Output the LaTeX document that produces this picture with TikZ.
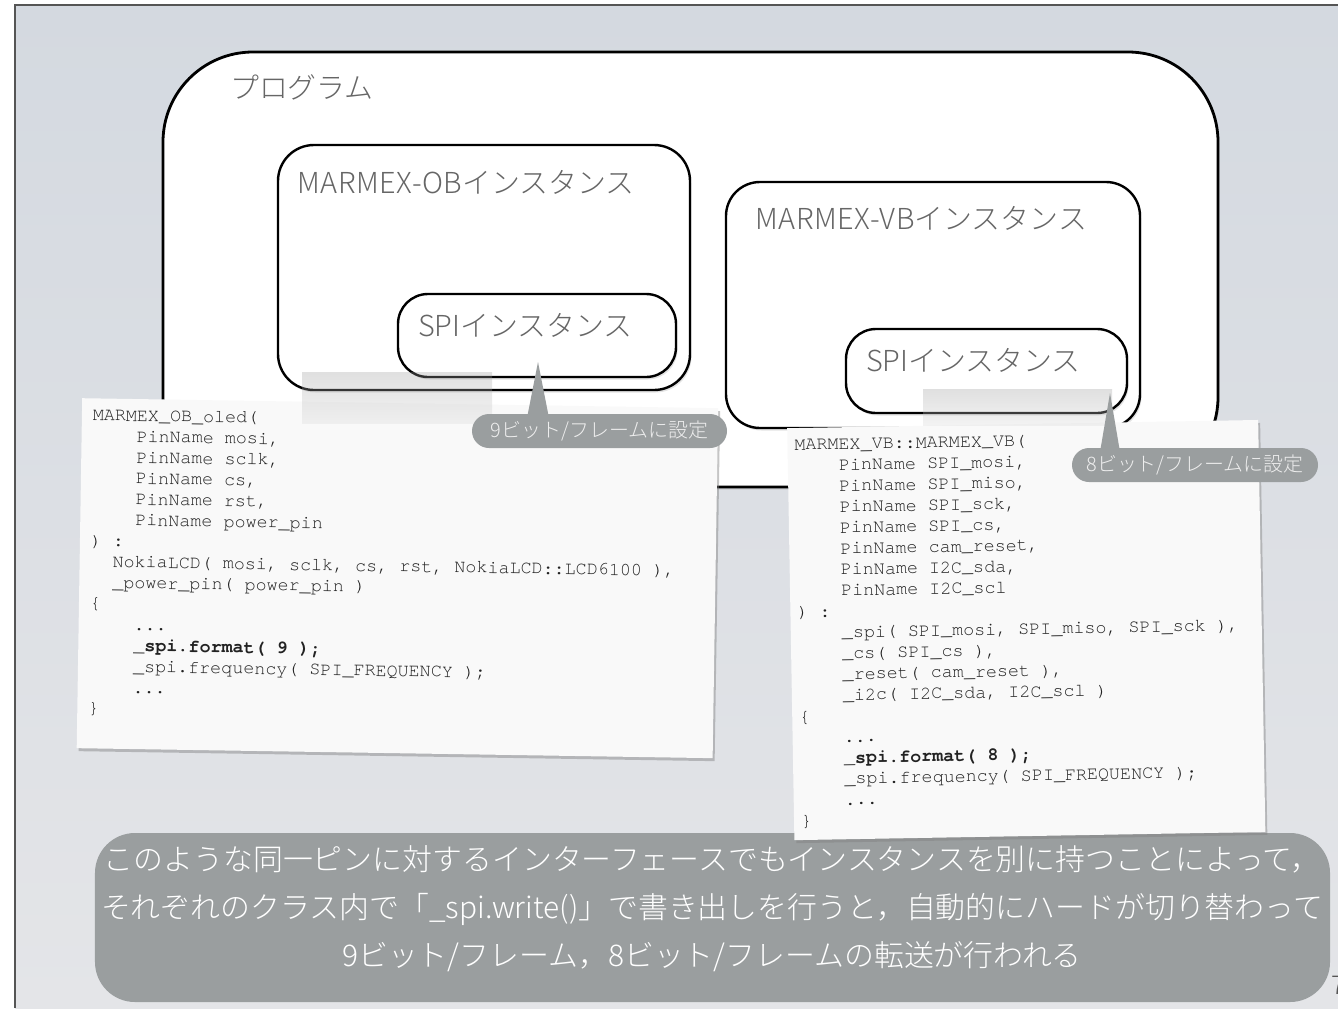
\documentclass[tikz,border=0pt]{standalone}
\usepackage{fontspec}
\setmainfont{Noto Sans CJK JP}
\newfontfamily\jp{Noto Sans CJK JP}
\IfFontExistsTF{Noto Sans CJK JP Light}{\newfontfamily\jpl{Noto Sans CJK JP Light}}{\newfontfamily\jpl{Noto Sans CJK JP}}
\IfFontExistsTF{TeX Gyre Cursor}{\newfontfamily\codefont{TeX Gyre Cursor}}{\newfontfamily\codefont{Liberation Mono}}
\usetikzlibrary{shadows}
\definecolor{labelgray}{HTML}{666666}
\definecolor{bgtop}{HTML}{D4D9E0}
\definecolor{bgbot}{HTML}{E4E5E8}
\definecolor{edgecol}{HTML}{555555}
\definecolor{calloutfill}{HTML}{9A9E9F}
\definecolor{callouttext}{HTML}{EEEEEE}
\definecolor{codecol}{HTML}{222222}
\definecolor{codefill}{HTML}{F9F9F9}
\tikzset{
  rbox/.style={draw=black, line width=2.4bp, fill=white, rounded corners=#1, inner sep=0,
    drop shadow={opacity=0.22, shadow xshift=1.5bp, shadow yshift=-2.5bp}},
  lbl/.style={font=\jpl\fontsize{29}{34}\selectfont, text=labelgray, inner sep=0, anchor=west},
  codebox/.style={fill=codefill, draw=none, inner sep=0, anchor=north west,
    drop shadow={opacity=0.45, shadow xshift=2bp, shadow yshift=-3bp}},
  codetext/.style={font=\codefont\fontsize{18.45}{21}\selectfont, text=codecol, align=left, inner sep=0, anchor=north west},
  tapestrip/.style={top color=black!40, bottom color=black!15, opacity=0.3, draw=none, inner sep=0},
  bubble/.style={fill=calloutfill, draw=none, rounded corners=17bp, inner sep=0,
    font=\jpl\fontsize{20}{23}\selectfont, text=callouttext},
  bigbubble/.style={fill=calloutfill, draw=none, rounded corners=40bp, inner sep=0},
  bigtext/.style={font=\jpl\fontsize{30}{48.5}\selectfont, text=white, align=center, inner sep=0}
}
\begin{document}
\begin{tikzpicture}[x=1bp,y=-1bp]
\useasboundingbox (0,0) rectangle (1338,1008);
\begin{scope}
\clip (0,0) rectangle (1338,1008);
\fill[white] (0,0) rectangle (1338,1008);
\shade[top color=bgtop, bottom color=bgbot] (15,5) rectangle (1338,1008);
\draw[edgecol, line width=1.2bp] (15,1008) -- (15,5) -- (1338,5);

% program box
\node[rbox=90bp, line width=2.8bp, minimum width=1055bp, minimum height=435bp] (prog) at (690.5,269.5) {};
\node[lbl] (proglbl) at (230,87) {プログラム};

% MARMEX-OB instance
\node[rbox=36bp, minimum width=412bp, minimum height=245bp] (obinst) at (484,267.5) {};
\node[lbl] (obinstlbl) at (297,182) {\addfontfeatures{LetterSpace=2}MARMEX-OB\jpl インスタンス};
\node[rbox=30bp, minimum width=278bp, minimum height=83bp] (obspi) at (537,335.5) {};
\node[lbl] (obspilbl) at (418,325) {SPIインスタンス};

% MARMEX-VB instance
\node[rbox=34bp, minimum width=414bp, minimum height=246bp] (vbinst) at (933,305) {};
\node[lbl] (vbinstlbl) at (755,218) {\addfontfeatures{LetterSpace=2}MARMEX-VB\jpl インスタンス};
\node[rbox=30bp, minimum width=281bp, minimum height=84bp] (vbspi) at (986.5,371) {};
\node[lbl] (vbspilbl) at (866,360) {SPIインスタンス};

% bottom message
\node[bigbubble, minimum width=1235bp, minimum height=169bp] (msg) at (712.5,917.5) {};
\node[bigtext] (msgtext) at (712,908.5) {このような同一ピンに対するインターフェースでもインスタンスを別に持つことによって，\\
それぞれのクラス内で「\_spi.write()」で書き出しを行うと，自動的にハードが切り替わって\\
9ビット/フレーム，8ビット/フレームの転送が行われる};

% OB code
\begin{scope}[shift={(82,398)}, rotate=-0.9, transform shape]
\node[codebox, minimum width=636bp, minimum height=350bp] (obcode) at (0,0) {};
\node[codetext] (obtext) at (11,11) {MARMEX\_OB\_oled(\\
\hspace*{2.4em}PinName mosi,\\
\hspace*{2.4em}PinName sclk,\\
\hspace*{2.4em}PinName cs,\\
\hspace*{2.4em}PinName rst,\\
\hspace*{2.4em}PinName power\_pin\\
) :\\
\hspace*{1.2em}NokiaLCD( mosi, sclk, cs, rst, NokiaLCD::LCD6100 ),\\
\hspace*{1.2em}\_power\_pin( power\_pin )\\
\{\\
\hspace*{2.4em}...\\
\hspace*{2.4em}\textbf{\_spi.format( 9 );}\\
\hspace*{2.4em}\_spi.frequency( SPI\_FREQUENCY );\\
\hspace*{2.4em}...\\
\}};
\end{scope}

% VB code
\begin{scope}[shift={(787,428)}, rotate=1, transform shape]
\node[codebox, minimum width=471bp, minimum height=412bp] (vbcode) at (0,0) {};
\node[codetext] (vbtext) at (7,11) {MARMEX\_VB::MARMEX\_VB(\\
\hspace*{2.4em}PinName SPI\_mosi,\\
\hspace*{2.4em}PinName SPI\_miso,\\
\hspace*{2.4em}PinName SPI\_sck,\\
\hspace*{2.4em}PinName SPI\_cs,\\
\hspace*{2.4em}PinName cam\_reset,\\
\hspace*{2.4em}PinName I2C\_sda,\\
\hspace*{2.4em}PinName I2C\_scl\\
) :\\
\hspace*{2.4em}\_spi( SPI\_mosi, SPI\_miso, SPI\_sck ),\\
\hspace*{2.4em}\_cs( SPI\_cs ),\\
\hspace*{2.4em}\_reset( cam\_reset ),\\
\hspace*{2.4em}\_i2c( I2C\_sda, I2C\_scl )\\
\{\\
\hspace*{2.4em}...\\
\hspace*{2.4em}\textbf{\_spi.format( 8 );}\\
\hspace*{2.4em}\_spi.frequency( SPI\_FREQUENCY );\\
\hspace*{2.4em}...\\
\}};
\end{scope}

% tape strips
\node[tapestrip, minimum width=190bp, minimum height=51bp] (obtape) at (397,397.5) {};
\node[tapestrip, minimum width=189bp, minimum height=36bp] (vbtape) at (1017.5,407.5) {};

% callouts
\coordinate (obtip) at (538,362);
\coordinate (vbtip) at (1110,393);
\fill[calloutfill] (obtip) -- (527,418) -- (549,418) -- cycle;
\node[bubble, minimum width=255bp, minimum height=34bp] (obcall) at (599.5,431) {9ビット/フレームに設定};
\fill[calloutfill] (vbtip) -- (1100,452) -- (1120,452) -- cycle;
\node[bubble, minimum width=246bp, minimum height=34bp] (vbcall) at (1195,465) {8ビット/フレームに設定};

% page number
\node[font=\jpl\fontsize{26}{30}\selectfont, text=edgecol, inner sep=0, anchor=west] (pagenum) at (1331,985) {7};
\end{scope}
\end{tikzpicture}
\end{document}
